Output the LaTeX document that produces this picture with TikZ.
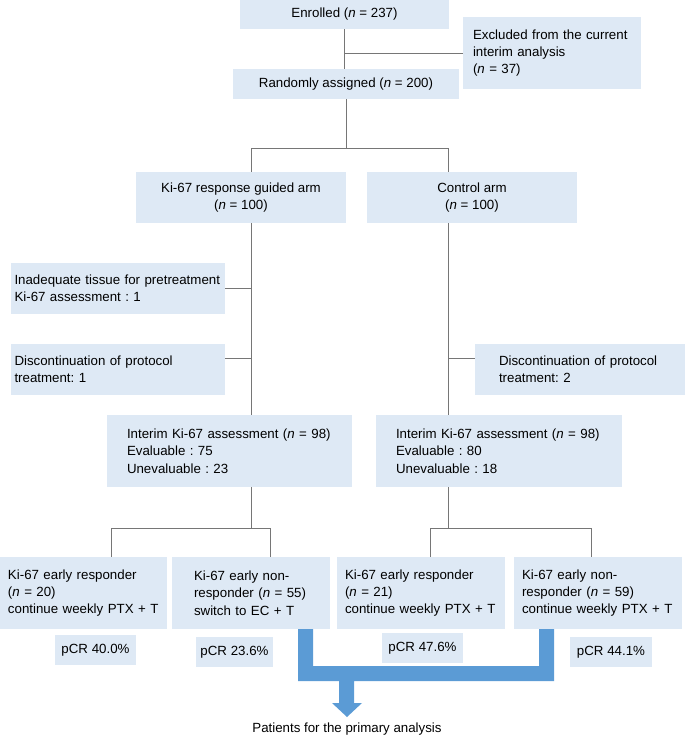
\documentclass[tikz,border=0pt]{standalone}
\usepackage{fontspec}
\setmainfont{Liberation Sans}
\definecolor{boxfill}{HTML}{DEE9F5}
\definecolor{flowarrow}{HTML}{5B9BD5}
\definecolor{linkgray}{HTML}{767676}
\begin{document}
\begin{tikzpicture}[x=1pt,y=-1pt,
    box/.style={fill=boxfill,inner sep=0pt,align=center,font=\fontsize{13.3}{17.3}\selectfont\frenchspacing},
    lbox/.style 2 args={box,align=left,inner xsep=#1,text width=#2},
    link/.style={draw=linkgray,line width=0.9pt}]
  \useasboundingbox (0,0) rectangle (685,737);

  \node[box,minimum width=209,minimum height=29] (enr) at (344.5,14.5) {Enrolled (\textit{n} = 237)};
  \node[lbox={10}{158},minimum height=72] (excl) at (552,53) {Excluded from the current\\interim analysis\\(\textit{n} = 37)};
  \node[box,minimum width=226,minimum height=30] (rand) at (346,84) {Randomly assigned (\textit{n} = 200)};
  \node[box,minimum width=210,minimum height=51] (armL) at (241,197.5) {Ki-67 response guided arm\\(\textit{n} = 100)};
  \node[box,minimum width=210,minimum height=51] (armR) at (472,197.5) {Control arm\\(\textit{n} = 100)};
  \node[lbox={3.5}{207},minimum height=51] (inad) at (118,288.5) {Inadequate tissue for pretreatment\\Ki-67 assessment : 1};
  \node[lbox={3.5}{207},minimum height=51] (discL) at (118,369.5) {Discontinuation of protocol\\treatment: 1};
  \node[lbox={24}{162},minimum height=51] (discR) at (580,369.5) {Discontinuation of protocol\\treatment: 2};
  \node[lbox={20}{205},minimum height=72] (intL) at (229.5,451) {Interim Ki-67 assessment (\textit{n} = 98)\\Evaluable : 75\\Unevaluable : 23};
  \node[lbox={20}{206},minimum height=72] (intR) at (499,451) {Interim Ki-67 assessment (\textit{n} = 98)\\Evaluable : 80\\Unevaluable : 18};
  \node[lbox={8}{151},minimum height=72] (resL) at (83.5,593) {Ki-67 early responder\\(\textit{n} = 20)\\continue weekly PTX + T};
  \node[lbox={22}{114},minimum height=72] (nonL) at (251,593) {Ki-67 early non-\\responder (\textit{n} = 55)\\switch to EC + T};
  \node[lbox={8}{152},minimum height=72] (resR) at (421,593) {Ki-67 early responder\\(\textit{n} = 21)\\continue weekly PTX + T};
  \node[lbox={8}{152},minimum height=72] (nonR) at (598,593) {Ki-67 early non-\\responder (\textit{n} = 59)\\continue weekly PTX + T};
  \node[box,minimum width=81,minimum height=30] (pcr1) at (95.5,650) {pCR 40.0\%};
  \node[box,minimum width=77,minimum height=30] (pcr2) at (234.5,652) {pCR 23.6\%};
  \node[box,minimum width=81,minimum height=30] (pcr3) at (422.5,648) {pCR 47.6\%};
  \node[box,minimum width=82,minimum height=30] (pcr4) at (611,652) {pCR 44.1\%};
  \node[box,fill=none] (prim) at (347,729) {Patients for the primary analysis};

  \coordinate (colL) at (251,148);
  \coordinate (colR) at (448,148);
  \coordinate (kL1) at (111,528);
  \coordinate (kL2) at (270,528);
  \coordinate (kR1) at (430,528);
  \coordinate (kR2) at (591,528);

  \draw[link] (enr.south) -- (enr.south |- rand.north);
  \draw[link] (excl.west) -- (excl.west -| enr.south);
  \draw[link] (rand.south) -- (rand.south |- colL);
  \draw[link] (armL.north -| colL) -- (colL) -- (colR) -- (armR.north -| colR);
  \draw[link] (armL.south -| colL) -- (intL.north -| colL);
  \draw[link] (armR.south -| colR) -- (intR.north -| colR);
  \draw[link] (inad.east) -- (inad.east -| colL);
  \draw[link] ([yshift=11.5pt]discL.east) -- ([yshift=11.5pt]discL.east -| colL);
  \draw[link] ([yshift=11.5pt]discR.west) -- ([yshift=11.5pt]discR.west -| colR);
  \draw[link] (intL.south -| colL) -- (colL |- kL1);
  \draw[link] (intR.south -| colR) -- (colR |- kR1);
  \draw[link] (resL.north -| kL1) -- (kL1) -- (kL2) -- (nonL.north -| kL2);
  \draw[link] (resR.north -| kR1) -- (kR1) -- (kR2) -- (nonR.north -| kR2);

  \fill[flowarrow] (298,629) -- (313,629) -- (313,666) -- (539,666) -- (539,629) -- (554,629)
    -- (554,681) -- (354,681) -- (354,703) -- (362,703) -- (347,717) -- (332,703)
    -- (339,703) -- (339,681) -- (298,681) -- cycle;
\end{tikzpicture}
\end{document}
